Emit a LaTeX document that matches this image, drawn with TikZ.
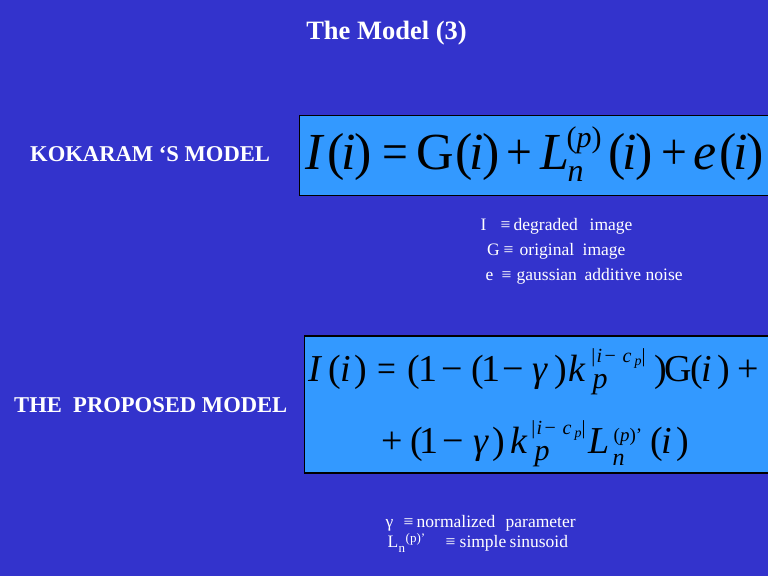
\documentclass[tikz,border=0pt]{standalone}
\usepackage{graphicx}
\usepackage{fontspec}
\setmainfont{Liberation Serif}
\definecolor{bgblue}{RGB}{51,51,204}
\definecolor{boxblue}{RGB}{51,153,255}
\newcommand{\pc}[2]{\rlap{\hspace*{#1pt}#2}}
\newcommand{\fs}[1]{\fontsize{#1}{#1}\selectfont}
\newcommand{\up}[3]{\raisebox{#1pt}{\fs{#2}#3}}
\newcommand{\nar}[1]{\scalebox{0.88}[1]{#1}}
\begin{document}
\begin{tikzpicture}[x=1pt,y=-1pt,
  eqbox/.style={draw=black, line width=1.5pt, fill=boxblue},
  lbl/.style={text=white, font=\bfseries\fs{22.6}, anchor=base west, inner sep=0pt},
  gloss/.style={text=white, font=\fs{17.5}, anchor=base west, inner sep=0pt},
  eq/.style={text=black, anchor=base west, inner sep=0pt}]
\useasboundingbox (0,0) rectangle (768,576);
\clip (0,0) rectangle (768,576);
\fill[bgblue] (0,0) rectangle (768,576);
\node[text=white, font=\bfseries\fs{26.5}, anchor=base, inner sep=0pt] (title) at (386.5,39) {The Model (3)};
\node[lbl] (kok) at (30,161.5) {KOKARAM ‘S MODEL};
\node[lbl] (prop) at (14,412) {THE\ \ PROPOSED MODEL};
\draw[eqbox] (299.5,115.5) rectangle (800,195.5);
\draw[eqbox] (304.5,336) rectangle (800,473);
% Kokaram equation
\node[eq, font=\fs{52}] (eqA) at (0,169) {%
 \pc{305}{\textit{I}}%
 \pc{326.5}{(\kern-3pt\textit{i}\kern-1.5pt)}%
 \pc{381.5}{\nar{=}}%
 \pc{416}{G}%
 \pc{454.5}{(\kern-3pt\textit{i}\kern-1.5pt)}%
 \pc{506}{\nar{+}}%
 \pc{540}{\textit{L}}%
 \pc{566}{\up{22}{30}{(\textit{p})}}%
 \pc{567}{\up{-12.5}{32}{\textit{n}}}%
 \pc{607.5}{(\kern-3pt\textit{i}\kern-1.5pt)}%
 \pc{661}{\nar{+}}%
 \pc{693}{\textit{e}}%
 \pc{718.5}{(\kern-3pt\textit{i}\kern-1.5pt)}%
};
% Proposed equation, line 1
\node[eq, font=\fs{38}] (eqB) at (0,381) {%
 \pc{308}{\textit{I}}%
 \pc{327.5}{(}\pc{340}{\textit{i}}\pc{354}{)}%
 \pc{376.5}{\nar{=}}%
 \pc{406.5}{(}\pc{418}{1}\pc{441}{−}%
 \pc{470.5}{(}\pc{481}{1}\pc{502}{−}%
 \pc{532}{\textit{γ}}\pc{554}{)}%
 \pc{568}{\textit{k}}%
 \pc{592}{\up{-7}{30}{\textit{p}}}%
 \pc{590.7}{\up{19}{20}{|}}\pc{596}{\up{19}{20}{\textit{i}}}\pc{604}{\up{19}{20}{−}}%
 \pc{622}{\up{19}{20}{\textit{c}}}\pc{634}{\up{16}{14}{\textit{p}}}\pc{641}{\up{19}{20}{|}}%
 \pc{654}{)}\pc{664}{G}%
 \pc{690}{(}\pc{701}{\textit{i}}\pc{717}{)}%
 \pc{737}{+}%
};
% Proposed equation, line 2
\node[eq, font=\fs{38}] (eqC) at (0,453) {%
 \pc{381}{+}%
 \pc{410}{(}\pc{419}{1}\pc{442}{−}%
 \pc{473}{\textit{γ}}\pc{492}{)}%
 \pc{510}{\textit{k}}%
 \pc{534}{\up{-7}{30}{\textit{p}}}%
 \pc{530.7}{\up{19}{20}{|}}\pc{536}{\up{19}{20}{\textit{i}}}\pc{544}{\up{19}{20}{−}}%
 \pc{562}{\up{19}{20}{\textit{c}}}\pc{574}{\up{16}{14}{\textit{p}}}\pc{581}{\up{19}{20}{|}}%
 \pc{588}{\textit{L}}%
 \pc{613}{\up{12}{19}{(\textit{p})’}}%
 \pc{612}{\up{-12}{24}{\textit{n}}}%
 \pc{650}{(}\pc{661}{\textit{i}}\pc{676}{)}%
};
% glossary 1
\node[gloss] (gI) at (0,230.5) {\pc{480}{I}\pc{500}{≡}\pc{513}{degraded}\pc{589}{image}};
\node[gloss] (gG) at (0,255.5) {\pc{486.5}{G}\pc{503}{≡}\pc{519}{original}\pc{582}{image}};
\node[gloss] (gE) at (0,280) {\pc{485}{e}\pc{501}{≡}\pc{516}{gaussian}\pc{584}{additive}\pc{645}{noise}};
% glossary 2
\node[gloss] (gGam) at (0,527) {\pc{385}{γ}\pc{403}{≡}\pc{416}{normalized}\pc{505}{parameter}};
\node[gloss] (gL) at (0,547) {\pc{387}{L}\pc{398}{\up{-5}{13}{n}}\pc{405}{\up{5}{13}{(p)’}}\pc{445}{≡}\pc{459}{simple}\pc{509}{sinusoid}};
\end{tikzpicture}
\end{document}
